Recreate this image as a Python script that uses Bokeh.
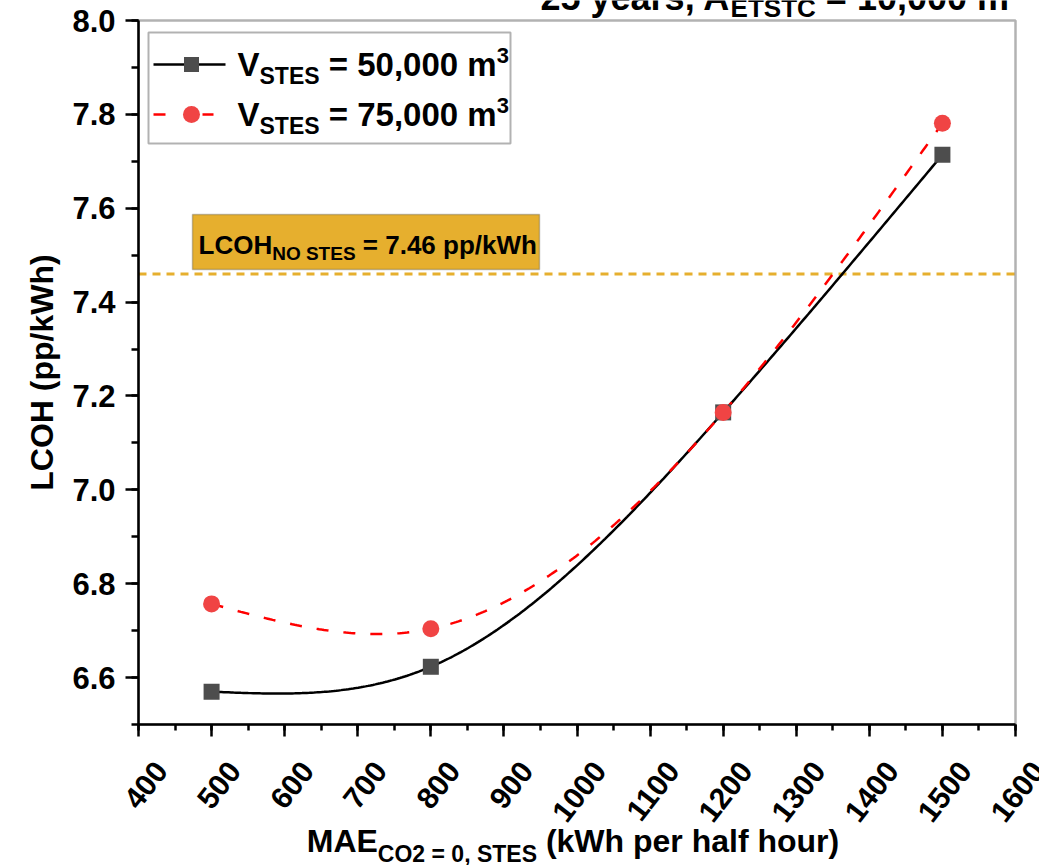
import numpy as np
from bokeh.plotting import figure
from bokeh.models import FixedTicker, Label, BoxAnnotation, LinearAxis, Range1d
from bokeh.embed import file_html
from bokeh.resources import INLINE

# ---------------- data ----------------
mae = [500, 800, 1200, 1500]
lcoh_50 = [6.570, 6.623, 7.165, 7.714]
lcoh_75 = [6.757, 6.704, 7.165, 7.781]
lcoh_no_stes = 7.46
x_ticks = list(range(400, 1601, 100))
x_minor = list(range(400, 1601, 50))
y_ticks = [6.6, 6.8, 7.0, 7.2, 7.4, 7.6, 7.8, 8.0]
y_minor = [round(6.5 + 0.1 * i, 1) for i in range(16)]

# ---------------- geometry ----------------
W, H = 1039, 865
FL, FR, FT, FB = 138, 1015, 20, 724
X0, X1, Y0, Y1 = 400, 1600, 6.5, 8.0
FONT = "Liberation Sans"


def dx(px):
    return X0 + (px - FL) * (X1 - X0) / (FR - FL)


def dy(py):
    return Y1 - (py - FT) * (Y1 - Y0) / (FB - FT)


WID = {' ': 278, '(': 333, ')': 333, ',': 278, '.': 278, '/': 278, '=': 584,
       'A': 722, 'C': 722, 'E': 667, 'H': 722, 'L': 611, 'M': 833, 'N': 722,
       'O': 778, 'S': 667, 'T': 611, 'V': 667, 'W': 944, 'a': 556, 'e': 556,
       'f': 333, 'h': 611, 'k': 556, 'l': 278, 'm': 889, 'o': 611, 'p': 611,
       'r': 389, 's': 556, 'u': 611, 'y': 556}


def tw(s, size):
    return sum(WID.get(c, 556) for c in s) * size / 1000.0


def natural_spline(xs, ys, n=300):
    xs = np.asarray(xs, float)
    ys = np.asarray(ys, float)
    k = len(xs)
    h = np.diff(xs)
    A = np.zeros((k, k))
    b = np.zeros(k)
    A[0, 0] = 1
    A[-1, -1] = 1
    for i in range(1, k - 1):
        A[i, i - 1] = h[i - 1]
        A[i, i] = 2 * (h[i - 1] + h[i])
        A[i, i + 1] = h[i]
        b[i] = 6 * ((ys[i + 1] - ys[i]) / h[i] - (ys[i] - ys[i - 1]) / h[i - 1])
    M = np.linalg.solve(A, b)
    xx = np.linspace(xs[0], xs[-1], n)
    idx = np.clip(np.searchsorted(xs, xx, side="right") - 1, 0, k - 2)
    xa, xb = xs[idx], xs[idx + 1]
    hh = xb - xa
    a = (xb - xx) / hh
    bb = (xx - xa) / hh
    yy = a * ys[idx] + bb * ys[idx + 1] + ((a ** 3 - a) * M[idx] + (bb ** 3 - bb) * M[idx + 1]) * hh ** 2 / 6
    return xx, yy


# frame covers the whole canvas; axes are pinned at the plot box edges
p = figure(width=W, height=H, x_range=Range1d(dx(0), dx(W)), y_range=Range1d(dy(H), dy(0)),
           output_backend="svg", toolbar_location=None, min_border=0,
           x_axis_type=None, y_axis_type=None)
p.background_fill_color = "white"
p.border_fill_color = "white"
p.outline_line_color = None

CORR = 0.34  # baseline correction, fraction of font size


def rich(px, py, pieces, color="black"):
    x = px
    for text, size, shift in pieces:
        while text.startswith(" "):
            x += tw(" ", size)
            text = text[1:]
        p.add_layout(Label(x=dx(x), y=dy(py + shift - CORR * size), text=text, text_font=FONT,
                           text_font_style="bold", text_font_size=f"{size}px",
                           text_baseline="alphabetic", text_align="left",
                           text_color=color))
        x += tw(text, size)


xaxis = LinearAxis(fixed_location=Y0, bounds=(X0, X1),
                   ticker=FixedTicker(ticks=x_ticks, minor_ticks=x_minor))
yaxis = LinearAxis(fixed_location=X0, bounds=(Y0, Y1),
                   ticker=FixedTicker(ticks=y_ticks, minor_ticks=y_minor))
for ax in (xaxis, yaxis):
    ax.axis_line_width = 2.5
    ax.axis_line_color = "black"
    ax.major_tick_line_width = 2.5
    ax.minor_tick_line_width = 2.5
    ax.major_tick_line_color = "black"
    ax.minor_tick_line_color = "black"
    ax.major_tick_in = 0
    ax.minor_tick_in = 0

yaxis.major_tick_out = 13
yaxis.minor_tick_out = 7
yaxis.major_label_standoff = 10
yaxis.major_label_text_font = FONT
yaxis.major_label_text_font_style = "bold"
yaxis.major_label_text_font_size = "31px"
yaxis.major_label_text_color = "black"
yaxis.major_label_overrides = {t: f"{t:.1f}" for t in y_ticks}
yaxis.axis_label = "LCOH (pp/kWh)"
yaxis.axis_label_text_font = FONT
yaxis.axis_label_text_font_style = "bold"
yaxis.axis_label_text_font_size = "32px"
yaxis.axis_label_text_color = "black"
yaxis.axis_label_standoff = 9

xaxis.major_tick_out = 12
xaxis.minor_tick_out = 6
xaxis.major_label_text_color = None
p.add_layout(xaxis, "below")
p.add_layout(yaxis, "left")

# plot box
p.add_layout(BoxAnnotation(left=X0, right=X1, bottom=Y0, top=Y1, fill_color=None,
                           line_color="black", line_width=2.5))

# rotated x tick labels
for t in x_ticks:
    p.add_layout(Label(x=t, y=dy(765), x_offset=23, text=str(t), angle=52,
                       angle_units="deg", text_align="right", text_baseline="middle",
                       text_font=FONT, text_font_style="bold", text_font_size="30px",
                       text_color="black"))

# x axis title with subscript
xa_pieces = [("MAE", 32, 0), ("CO2 = 0, STES", 23, 10), (" (kWh per half hour)", 32, 0)]
xa_w = sum(tw(s, z) for s, z, _ in xa_pieces)
rich((FL + FR) / 2 - xa_w / 2 - 4, 851, xa_pieces)

# reference line across the plot box, and its label box
p.segment(x0=[X0], y0=[lcoh_no_stes], x1=[X1], y1=[lcoh_no_stes], line_color="#E6AF2E",
          line_width=3, line_dash="8 6")
p.add_layout(BoxAnnotation(left=dx(192), right=dx(539), top=dy(214), bottom=dy(269),
                           fill_color="#E6AF2E", fill_alpha=1.0,
                           line_color="#3a3a3a", line_width=1.5))
rich(198, 253, [("LCOH", 26, 0), ("NO STES", 19, 6), (f" = {lcoh_no_stes:.2f} pp/kWh", 26, 0)])

# curves
sx, sy = natural_spline(mae, lcoh_50)
p.line(sx, sy, line_color="black", line_width=2.5)
rx, ry = natural_spline(mae, lcoh_75)
p.line(rx, ry, line_color="#FF0000", line_width=2.5, line_dash="12 15")

p.scatter(mae, lcoh_50, marker="square", size=16, fill_color="#4D4D4D", line_color=None)
p.scatter(mae, lcoh_75, marker="circle", size=17, fill_color="#F04444", line_color=None)

# legend (manual, to allow subscripts)
p.add_layout(BoxAnnotation(left=dx(148), right=dx(510), top=dy(32), bottom=dy(143),
                           fill_color=None, line_color="black", line_width=2))
p.segment(x0=[dx(153)], y0=[dy(64)], x1=[dx(225)], y1=[dy(64)], line_color="black", line_width=2.5)
p.scatter([dx(191)], [dy(64)], marker="square", size=15, fill_color="#4D4D4D", line_color=None)
p.segment(x0=[dx(153), dx(202)], y0=[dy(114), dy(114)], x1=[dx(165), dx(213)], y1=[dy(114), dy(114)],
          line_color="#FF0000", line_width=2.5)
p.scatter([dx(191)], [dy(114)], marker="circle", size=17, fill_color="#F04444", line_color=None)
rich(237, 75, [("V", 33, 0), ("STES", 23, 8), (" = 50,000 m", 33, 0), ("3", 22, -13)])
rich(237, 125, [("V", 33, 0), ("STES", 23, 8), (" = 75,000 m", 33, 0), ("3", 22, -13)])

# title (cut off at the top, as in the reference)
rich(540, 9, [("25 years, A", 36, 0), ("ETSTC", 26, 7), (" = 10,000 m", 36, 0), ("2", 26, -15)])

open("out.html", "w").write(file_html(p, INLINE))
